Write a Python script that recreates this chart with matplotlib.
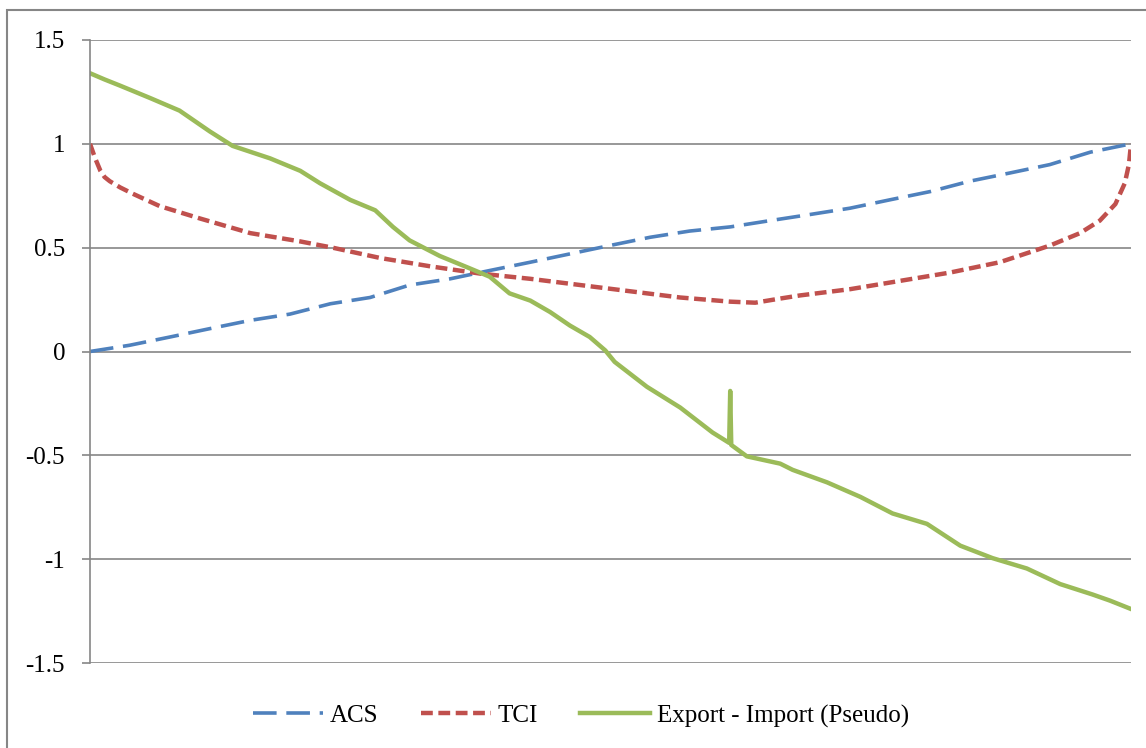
import matplotlib.pyplot as plt
from matplotlib.patches import Rectangle

plt.rcParams['font.family'] = ['Liberation Serif', 'DejaVu Serif']
plt.rcParams['lines.scale_dashes'] = False

# x is the rank position along the (unlabelled) horizontal axis, 0-100
acs_x = [0, 3.8, 7.7, 11.5, 15.4, 19.2, 23.1, 26.9, 30.7, 34.6, 38.4, 42.3, 46.1,
         49.9, 53.8, 57.6, 61.5, 65.3, 69.2, 73.0, 76.8, 80.7, 84.5, 88.4, 92.2, 96.1, 100]
acs_y = [0, 0.03, 0.07, 0.11, 0.15, 0.18, 0.23, 0.26, 0.32, 0.35, 0.39, 0.43, 0.47,
         0.51, 0.55, 0.58, 0.60, 0.63, 0.66, 0.69, 0.73, 0.77, 0.82, 0.86, 0.90, 0.96, 1.0]

tci_x = [0, 0.5, 1.0, 1.4, 1.9, 2.9, 4.1, 6.7, 10.6, 15.4, 20.2, 23.3, 27.9, 32.7,
         37.5, 42.3, 47.1, 51.9, 56.7, 61.5, 63.9, 66.3, 68.2, 73.0, 77.8, 82.6,
         87.4, 92.2, 95.1, 97.0, 98.5, 99.4, 99.8, 100]
tci_y = [1.0, 0.93, 0.87, 0.84, 0.82, 0.79, 0.76, 0.70, 0.64, 0.57, 0.53, 0.50, 0.45, 0.41,
         0.375, 0.35, 0.32, 0.29, 0.26, 0.24, 0.235, 0.255, 0.27, 0.30, 0.34, 0.38,
         0.43, 0.51, 0.57, 0.63, 0.71, 0.81, 0.90, 1.0]

ei_x = [0, 1.4, 2.9, 5.8, 8.6, 11.5, 13.7, 17.3, 20.2, 22.1, 25.0, 27.4, 29.1, 30.7,
        33.6, 36.5, 38.4, 40.3, 42.3, 44.2, 46.1, 48.0, 49.5, 50.4, 53.5, 56.7, 59.8,
        61.4, 61.5, 61.6, 63.1, 66.3, 67.5, 70.8, 74.0, 77.1, 80.4, 83.6, 86.7, 90.0,
        93.2, 96.3, 98.0, 100]
ei_y = [1.34, 1.31, 1.28, 1.22, 1.16, 1.06, 0.99, 0.93, 0.87, 0.81, 0.73, 0.68, 0.60, 0.535,
        0.46, 0.40, 0.36, 0.28, 0.245, 0.19, 0.125, 0.07, 0.005, -0.05, -0.17, -0.27, -0.39,
        -0.44, -0.19, -0.45, -0.505, -0.54, -0.57, -0.63, -0.70, -0.78, -0.83, -0.935, -0.995, -1.045,
        -1.12, -1.17, -1.20, -1.24]

fig = plt.figure(figsize=(11.46, 7.48), dpi=100)
ax = fig.add_axes([90 / 1146, 1 - 663 / 748, 1041 / 1146, 623 / 748])

ax.plot(acs_x, acs_y, color='#4F81BD', lw=2.6, dashes=(17, 7), label='ACS')
ax.plot(tci_x, tci_y, color='#C0504D', lw=3.2, dashes=(8.5, 4), label='TCI')
ax.plot(ei_x, ei_y, color='#9BBB59', lw=3.2, label='Export - Import (Pseudo)')

ax.set_xlim(0, 100)
ax.set_ylim(-1.5, 1.5)
ax.set_yticks([-1.5, -1, -0.5, 0, 0.5, 1, 1.5])
ax.set_yticklabels(['-1.5', '-1', '-0.5', '0', '0.5', '1', '1.5'], fontsize=18)
ax.set_xticks([])
ax.tick_params(axis='y', length=6, width=1.2, color='#868686', pad=12)
ax.grid(axis='y', color='#868686', lw=1.2)
ax.set_axisbelow(True)
for s in ['top', 'right', 'bottom']:
    ax.spines[s].set_visible(False)
ax.spines['left'].set_color('#868686')
ax.spines['left'].set_linewidth(1.2)

ax.legend(loc='center left', bbox_to_anchor=(230 / 1146, 1 - 716 / 748),
          bbox_transform=fig.transFigure, ncol=3, frameon=False, fontsize=18,
          handlelength=2.8, handletextpad=0.28, columnspacing=1.7)

fig.patches.append(Rectangle((7 / 1146, -0.1), 1.2, 1 - 10 / 748 + 0.1,
                             transform=fig.transFigure, fill=False,
                             edgecolor='#868686', lw=1.5))

plt.savefig('out.png', dpi=100)
